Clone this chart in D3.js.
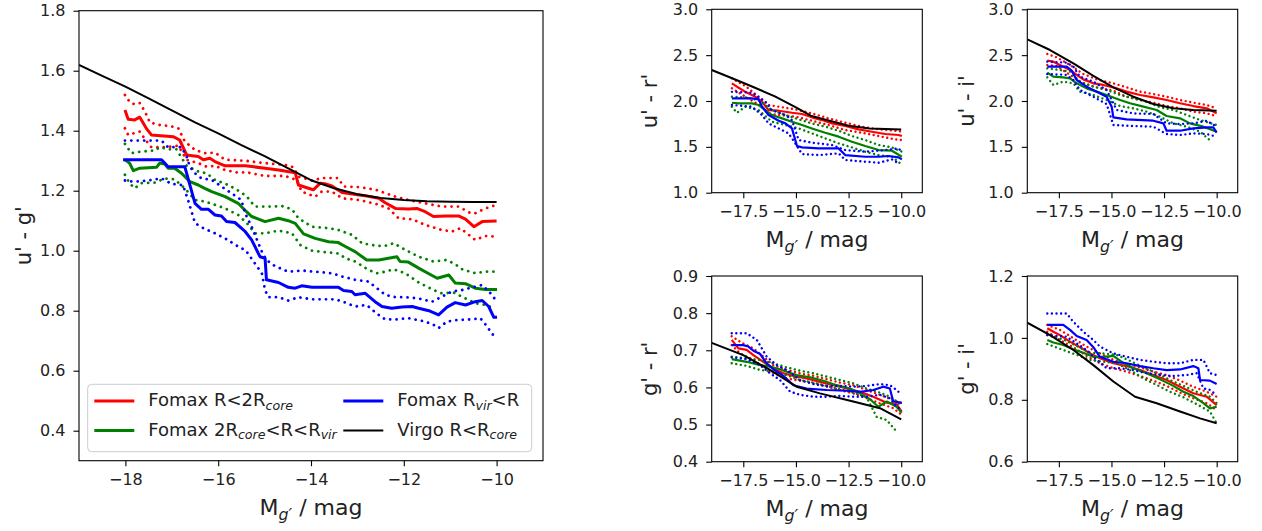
<!DOCTYPE html>
<html><head><meta charset="utf-8">
<script src="https://cdn.jsdelivr.net/npm/d3@7"></script>
<style>body{margin:0;background:#fff}text{font-family:"DejaVu Sans",sans-serif}</style>
</head><body>
<svg id="c" width="1262" height="531"></svg>
<script>
// ---------------- DATA ----------------
const xDomain = [-19, -9];
const mainXTicks = [-18, -16, -14, -12, -10];
const mainYTicks = [0.4, 0.6, 0.8, 1.0, 1.2, 1.4, 1.6, 1.8];
const smallXTicks = [-17.5, -15.0, -12.5, -10.0];
const urYTicks = [1.0, 1.5, 2.0, 2.5, 3.0];
const uiYTicks = [1.0, 1.5, 2.0, 2.5, 3.0];
const grYTicks = [0.4, 0.5, 0.6, 0.7, 0.8, 0.9];
const giYTicks = [0.6, 0.8, 1.0, 1.2];

// main panel: u' - g'
const mainVirgo = [[-19,1.619],[-18.5,1.583],[-18,1.547],[-17.5,1.508],[-17,1.468],[-16.5,1.428],[-16,1.391],[-15.5,1.352],[-15,1.315],[-14.5,1.275],[-14,1.235],[-13.5,1.208],[-13,1.188],[-12.5,1.176],[-12,1.169],[-11.5,1.165],[-11,1.163],[-10.5,1.162],[-10,1.162]];
const mainRedMid = [[-18.01,1.469],[-17.94,1.438],[-17.8,1.436],[-17.69,1.445],[-17.55,1.408],[-17.44,1.386],[-16.97,1.38],[-16.83,1.369],[-16.68,1.319],[-16.43,1.314],[-16.32,1.303],[-16.18,1.308],[-16.07,1.297],[-15.85,1.283],[-15.42,1.283],[-14.99,1.275],[-14.7,1.269],[-14.34,1.26],[-14.27,1.219],[-14.09,1.21],[-13.95,1.203],[-13.8,1.225],[-13.7,1.223],[-13.55,1.216],[-13.33,1.194],[-13.12,1.189],[-12.83,1.183],[-12.54,1.175],[-12.4,1.16],[-12.18,1.141],[-11.9,1.139],[-11.72,1.141],[-11.54,1.13],[-11.36,1.114],[-11.1,1.116],[-10.82,1.116],[-10.67,1.105],[-10.49,1.08],[-10.31,1.097],[-10,1.099]];
const mainRedHi = [[-18.01,1.519],[-17.9,1.494],[-17.8,1.488],[-17.69,1.492],[-17.58,1.464],[-17.47,1.427],[-17.26,1.419],[-17.04,1.416],[-16.86,1.408],[-16.72,1.364],[-16.5,1.336],[-16.29,1.325],[-16.07,1.327],[-15.85,1.303],[-15.42,1.3],[-14.99,1.292],[-14.56,1.286],[-14.38,1.278],[-14.27,1.247],[-13.98,1.234],[-13.77,1.242],[-13.41,1.242],[-13.3,1.214],[-12.97,1.212],[-12.6,1.203],[-12.18,1.18],[-11.9,1.169],[-11.54,1.158],[-11.18,1.147],[-10.82,1.147],[-10.56,1.125],[-10.46,1.125],[-10.24,1.141],[-10.02,1.152]];
const mainRedLo = [[-18.01,1.408],[-17.94,1.386],[-17.69,1.397],[-17.58,1.372],[-17.44,1.345],[-17.15,1.345],[-16.86,1.35],[-16.68,1.303],[-16.43,1.292],[-16.25,1.28],[-16.07,1.283],[-15.85,1.269],[-15.57,1.26],[-15.4,1.262],[-14.99,1.249],[-14.56,1.249],[-14.31,1.236],[-14.2,1.197],[-13.91,1.18],[-13.77,1.197],[-13.55,1.197],[-13.33,1.175],[-12.97,1.169],[-12.6,1.156],[-12.33,1.141],[-12.11,1.108],[-11.82,1.105],[-11.54,1.086],[-11.18,1.069],[-10.96,1.064],[-10.78,1.075],[-10.64,1.058],[-10.46,1.036],[-10.24,1.049],[-9.99,1.047]];
const mainGreenMid = [[-18.01,1.303],[-17.91,1.292],[-17.83,1.267],[-17.69,1.275],[-17.33,1.278],[-17.26,1.292],[-17.15,1.289],[-17.08,1.275],[-16.94,1.275],[-16.79,1.258],[-16.61,1.23],[-16.43,1.219],[-16.29,1.208],[-16.14,1.197],[-15.85,1.18],[-15.57,1.158],[-15.39,1.13],[-15.28,1.114],[-14.99,1.097],[-14.7,1.108],[-14.49,1.1],[-14.34,1.091],[-14.16,1.056],[-13.91,1.041],[-13.62,1.03],[-13.41,1.027],[-13.26,1.014],[-13.05,0.997],[-12.8,0.969],[-12.54,0.969],[-12.33,0.975],[-12.15,0.98],[-12.08,0.964],[-11.9,0.962],[-11.68,0.942],[-11.46,0.923],[-11.28,0.908],[-11.03,0.919],[-10.89,0.892],[-10.67,0.89],[-10.46,0.875],[-10.24,0.871],[-9.99,0.871]];
const mainGreenHi = [[-18.01,1.356],[-17.87,1.325],[-17.69,1.33],[-17.37,1.334],[-17.26,1.345],[-17.08,1.338],[-16.9,1.338],[-16.68,1.283],[-16.43,1.264],[-16.25,1.258],[-16.07,1.236],[-15.78,1.219],[-15.53,1.197],[-15.38,1.18],[-15.21,1.147],[-14.85,1.147],[-14.63,1.149],[-14.41,1.138],[-14.27,1.108],[-13.98,1.08],[-13.62,1.075],[-13.41,1.069],[-13.12,1.053],[-12.9,1.025],[-12.58,1.016],[-12.4,1.016],[-12.22,1.025],[-11.97,1.003],[-11.68,0.98],[-11.36,0.964],[-11.1,0.969],[-10.92,0.958],[-10.74,0.938],[-10.46,0.925],[-10.24,0.93],[-10.02,0.93]];
const mainGreenLo = [[-18.01,1.253],[-17.91,1.225],[-17.8,1.208],[-17.66,1.225],[-17.37,1.227],[-17.15,1.241],[-16.94,1.238],[-16.72,1.208],[-16.5,1.169],[-16.29,1.164],[-16.07,1.153],[-15.85,1.141],[-15.57,1.119],[-15.38,1.092],[-15.21,1.058],[-14.99,1.058],[-14.7,1.067],[-14.41,1.058],[-14.23,1.019],[-13.98,1.0],[-13.62,0.994],[-13.41,0.991],[-13.26,0.975],[-13.05,0.964],[-12.76,0.936],[-12.58,0.925],[-12.4,0.93],[-12.22,0.938],[-11.97,0.925],[-11.68,0.894],[-11.36,0.869],[-11.18,0.858],[-10.92,0.86],[-10.67,0.841],[-10.46,0.825],[-10.24,0.819],[-10.06,0.808]];
const mainBlueMid = [[-18.05,1.303],[-17.22,1.303],[-17.08,1.28],[-16.72,1.28],[-16.65,1.241],[-16.5,1.158],[-16.36,1.138],[-16.21,1.138],[-16.07,1.119],[-15.93,1.116],[-15.82,1.097],[-15.64,1.094],[-15.5,1.075],[-15.42,1.064],[-15.28,1.036],[-15.1,0.98],[-14.99,0.975],[-14.96,0.903],[-14.7,0.894],[-14.49,0.878],[-14.34,0.875],[-14.2,0.883],[-13.98,0.878],[-13.41,0.878],[-13.3,0.867],[-13.12,0.864],[-13.05,0.853],[-12.83,0.858],[-12.62,0.83],[-12.47,0.814],[-12.26,0.808],[-12.04,0.812],[-11.82,0.814],[-11.68,0.808],[-11.46,0.8],[-11.25,0.786],[-11.07,0.812],[-10.89,0.827],[-10.67,0.819],[-10.46,0.83],[-10.31,0.834],[-10.17,0.814],[-10.06,0.778],[-9.99,0.778]];
const mainBlueHi = [[-18.01,1.367],[-17.22,1.367],[-17.08,1.345],[-16.79,1.345],[-16.68,1.314],[-16.61,1.28],[-16.5,1.258],[-16.36,1.241],[-16.14,1.236],[-15.93,1.214],[-15.71,1.191],[-15.5,1.169],[-15.42,1.125],[-15.28,1.08],[-15.06,0.997],[-14.96,0.969],[-14.78,0.949],[-14.49,0.93],[-14.2,0.934],[-13.91,0.93],[-13.55,0.925],[-13.33,0.914],[-13.05,0.903],[-12.76,0.897],[-12.58,0.875],[-12.4,0.853],[-12.18,0.845],[-11.97,0.845],[-11.68,0.841],[-11.39,0.83],[-11.18,0.847],[-10.96,0.864],[-10.74,0.869],[-10.46,0.88],[-10.31,0.886],[-10.13,0.858],[-10.02,0.836]];
const mainBlueLo = [[-18.01,1.234],[-17.8,1.23],[-17.51,1.234],[-17.22,1.241],[-17.01,1.223],[-16.76,1.219],[-16.65,1.169],[-16.5,1.092],[-16.32,1.075],[-16.07,1.058],[-15.85,1.041],[-15.57,1.014],[-15.4,1.0],[-15.21,0.958],[-15.06,0.925],[-14.99,0.869],[-14.92,0.845],[-14.7,0.845],[-14.49,0.834],[-14.27,0.845],[-13.98,0.838],[-13.48,0.838],[-13.26,0.827],[-13.05,0.814],[-12.8,0.819],[-12.58,0.79],[-12.4,0.771],[-12.18,0.771],[-11.9,0.775],[-11.54,0.764],[-11.36,0.753],[-11.25,0.742],[-11.07,0.764],[-10.85,0.769],[-10.53,0.771],[-10.35,0.775],[-10.2,0.747],[-10.1,0.722],[-10.01,0.716]];

// u' - r'
const urVirgo = [[-19,2.338],[-18,2.245],[-17,2.15],[-16,2.05],[-15,1.93],[-14.3,1.84],[-13.5,1.79],[-12.5,1.73],[-11.5,1.70],[-10,1.688]];
const urRedMid = [[-18.04,2.192],[-17.8,2.156],[-17.4,2.1],[-16.93,2.047],[-16.61,1.992],[-16.3,1.9],[-15.82,1.894],[-15.19,1.872],[-14.71,1.858],[-14.24,1.822],[-13.76,1.792],[-13.29,1.756],[-12.66,1.727],[-12.02,1.69],[-11.39,1.665],[-10.76,1.64],[-10.13,1.629],[-9.97,1.618]];
const urRedHi = [[-18.04,2.247],[-17.4,2.163],[-16.61,2.018],[-16.3,1.956],[-15.82,1.938],[-15.03,1.909],[-14.24,1.865],[-13.45,1.811],[-12.66,1.763],[-11.87,1.72],[-11.07,1.69],[-10.28,1.676],[-9.97,1.665]];
const urRedLo = [[-18.04,2.138],[-17.4,2.047],[-16.61,1.938],[-16.3,1.865],[-15.82,1.847],[-15.03,1.829],[-14.24,1.785],[-13.45,1.738],[-12.66,1.683],[-11.87,1.654],[-11.07,1.618],[-10.28,1.581],[-9.97,1.574]];
const urGreenMid = [[-18.04,1.981],[-17.72,1.974],[-17.09,1.974],[-16.77,1.956],[-16.45,1.9],[-16.14,1.847],[-15.66,1.811],[-15.19,1.774],[-14.71,1.738],[-14.24,1.701],[-13.61,1.654],[-12.97,1.611],[-12.34,1.556],[-11.71,1.509],[-11.07,1.465],[-10.44,1.458],[-9.97,1.392]];
const urGreenHi = [[-18.04,2.047],[-17.4,2.04],[-16.77,2.01],[-16.14,1.9],[-15.5,1.847],[-14.87,1.8],[-14.24,1.756],[-13.61,1.72],[-12.97,1.676],[-12.34,1.618],[-11.71,1.574],[-11.07,1.52],[-10.44,1.494],[-9.97,1.447]];
const urGreenLo = [[-18.04,1.938],[-17.8,1.872],[-17.4,1.938],[-16.77,1.9],[-16.14,1.774],[-15.5,1.738],[-14.87,1.701],[-14.24,1.647],[-13.61,1.592],[-12.97,1.538],[-12.34,1.494],[-11.71,1.447],[-11.07,1.41],[-10.44,1.392],[-10.05,1.32]];
const urBlueMid = [[-18.04,2.029],[-17.09,2.029],[-16.77,2.018],[-16.61,1.938],[-16.3,1.847],[-15.82,1.785],[-15.5,1.756],[-15.19,1.701],[-14.95,1.509],[-14.71,1.494],[-13.92,1.483],[-12.97,1.483],[-12.66,1.41],[-11.71,1.392],[-11.07,1.392],[-10.6,1.4],[-10.13,1.385],[-9.97,1.363]];
const urBlueHi = [[-18.04,2.1],[-17.09,2.091],[-16.77,2.04],[-16.45,1.992],[-16.14,1.9],[-15.5,1.847],[-15.19,1.792],[-14.87,1.574],[-14.24,1.545],[-13.29,1.52],[-12.66,1.465],[-11.71,1.447],[-10.76,1.465],[-10.13,1.483],[-9.97,1.447]];
const urBlueLo = [[-18.04,1.956],[-17.09,1.938],[-16.61,1.847],[-16.3,1.756],[-15.82,1.701],[-15.35,1.647],[-15.03,1.538],[-14.71,1.421],[-13.92,1.41],[-12.97,1.429],[-12.66,1.356],[-11.71,1.338],[-11.07,1.327],[-10.44,1.363],[-10.13,1.32]];

// u' - i'
const uiVirgo = [[-19,2.673],[-17.92,2.556],[-16.81,2.411],[-15.86,2.273],[-14.91,2.149],[-13.96,2.047],[-13.01,1.967],[-12.06,1.92],[-11.11,1.902],[-10,1.895]];
const uiRedMid = [[-18.05,2.44],[-17.76,2.429],[-17.45,2.393],[-16.97,2.338],[-16.65,2.284],[-16.34,2.236],[-15.86,2.193],[-15.39,2.175],[-14.91,2.149],[-14.28,2.102],[-13.64,2.065],[-13.01,2.04],[-12.38,2.011],[-11.74,1.975],[-11.11,1.945],[-10.47,1.92],[-10,1.865]];
const uiRedHi = [[-18.05,2.513],[-17.61,2.476],[-16.97,2.393],[-16.34,2.295],[-15.7,2.236],[-14.91,2.193],[-14.28,2.149],[-13.64,2.102],[-13.01,2.076],[-12.38,2.047],[-11.74,2.011],[-11.11,1.982],[-10.47,1.956],[-10,1.92]];
const uiRedLo = [[-18.05,2.393],[-17.61,2.382],[-16.97,2.284],[-16.34,2.193],[-15.7,2.149],[-14.91,2.113],[-14.28,2.047],[-13.64,2.011],[-13.01,1.982],[-12.38,1.945],[-11.74,1.92],[-11.11,1.884],[-10.47,1.865],[-10,1.836]];
const uiGreenMid = [[-18.05,2.309],[-17.76,2.265],[-17.29,2.258],[-16.97,2.247],[-16.65,2.193],[-16.18,2.138],[-15.7,2.102],[-15.23,2.065],[-14.59,2.011],[-14.12,1.975],[-13.48,1.938],[-12.85,1.902],[-12.38,1.836],[-11.74,1.811],[-11.27,1.756],[-10.63,1.72],[-10,1.665]];
const uiGreenHi = [[-18.05,2.356],[-17.45,2.338],[-16.97,2.32],[-16.5,2.211],[-15.86,2.156],[-15.23,2.12],[-14.59,2.065],[-13.96,2.029],[-13.33,1.993],[-12.69,1.931],[-12.06,1.902],[-11.42,1.847],[-10.79,1.793],[-10,1.738]];
const uiGreenLo = [[-18.05,2.258],[-17.76,2.175],[-17.29,2.211],[-16.81,2.193],[-16.5,2.102],[-15.86,2.065],[-15.23,2.011],[-14.59,1.945],[-13.96,1.92],[-13.33,1.884],[-12.69,1.829],[-12.06,1.756],[-11.42,1.72],[-10.79,1.665],[-10.24,1.556]];
const uiBlueMid = [[-18.05,2.375],[-17.13,2.375],[-16.89,2.331],[-16.65,2.229],[-16.18,2.156],[-15.7,2.102],[-15.23,2.047],[-14.99,1.938],[-14.91,1.822],[-14.28,1.8],[-13.01,1.785],[-12.53,1.756],[-12.38,1.676],[-11.74,1.676],[-11.11,1.702],[-10.47,1.713],[-10.16,1.713],[-10,1.655]];
const uiBlueHi = [[-18.05,2.429],[-17.13,2.418],[-16.81,2.375],[-16.5,2.265],[-15.86,2.211],[-15.23,2.12],[-14.99,2.011],[-14.75,1.902],[-13.96,1.865],[-13.01,1.858],[-12.38,1.756],[-11.74,1.749],[-11.11,1.756],[-10.47,1.785],[-10,1.72]];
const uiBlueLo = [[-18.05,2.295],[-17.13,2.284],[-16.81,2.229],[-16.5,2.12],[-15.86,2.047],[-15.23,1.967],[-14.91,1.738],[-13.96,1.727],[-13.01,1.72],[-12.38,1.64],[-11.74,1.629],[-11.11,1.647],[-10.47,1.64],[-10,1.611]];

// g' - r'
const grVirgo = [[-19,0.72],[-17.5,0.687],[-16.23,0.647],[-14.97,0.602],[-13.86,0.584],[-12.28,0.562],[-11.01,0.544],[-10,0.514]];
const grRedMid = [[-18.05,0.728],[-17.73,0.705],[-17.34,0.701],[-17.02,0.687],[-16.55,0.669],[-16.07,0.651],[-15.6,0.638],[-15.12,0.631],[-14.49,0.624],[-13.86,0.615],[-13.22,0.606],[-12.59,0.597],[-11.96,0.588],[-11.33,0.575],[-10.69,0.559],[-10.22,0.555],[-9.98,0.535]];
const grRedHi = [[-18.05,0.738],[-17.66,0.723],[-17.02,0.705],[-16.55,0.683],[-16.07,0.66],[-15.44,0.647],[-14.81,0.638],[-14.17,0.631],[-13.54,0.622],[-12.91,0.613],[-12.28,0.606],[-11.64,0.593],[-11.01,0.58],[-10.38,0.566],[-9.98,0.557]];
const grRedLo = [[-18.05,0.714],[-17.66,0.692],[-17.02,0.674],[-16.55,0.656],[-16.07,0.638],[-15.44,0.624],[-14.81,0.618],[-14.17,0.611],[-13.54,0.602],[-12.91,0.593],[-12.28,0.584],[-11.64,0.571],[-11.01,0.557],[-10.38,0.544],[-9.98,0.526]];
const grGreenMid = [[-18.05,0.676],[-17.66,0.672],[-17.34,0.669],[-16.7,0.66],[-16.23,0.656],[-15.76,0.649],[-15.44,0.642],[-14.97,0.633],[-14.33,0.627],[-13.7,0.618],[-13.07,0.606],[-12.43,0.597],[-11.96,0.584],[-11.48,0.568],[-11.09,0.548],[-10.69,0.562],[-10.22,0.548],[-9.98,0.532]];
const grGreenHi = [[-18.05,0.683],[-17.34,0.678],[-16.7,0.674],[-16.07,0.665],[-15.44,0.654],[-14.81,0.645],[-14.17,0.638],[-13.54,0.629],[-12.91,0.62],[-12.28,0.611],[-11.64,0.597],[-11.01,0.586],[-10.38,0.571],[-9.98,0.548]];
const grGreenLo = [[-18.05,0.665],[-17.34,0.658],[-16.7,0.647],[-16.07,0.642],[-15.44,0.633],[-14.81,0.62],[-14.17,0.613],[-13.54,0.604],[-12.91,0.595],[-12.28,0.586],[-11.64,0.573],[-11.17,0.521],[-10.69,0.512],[-10.22,0.481]];
const grBlueMid = [[-18.05,0.714],[-17.5,0.714],[-17.26,0.71],[-17.02,0.699],[-16.7,0.69],[-16.39,0.665],[-16.07,0.649],[-15.6,0.631],[-15.12,0.606],[-14.49,0.597],[-13.54,0.593],[-12.59,0.591],[-11.96,0.588],[-11.33,0.593],[-10.85,0.602],[-10.54,0.597],[-10.38,0.562],[-9.98,0.559]];
const grBlueHi = [[-18.05,0.746],[-17.34,0.746],[-16.86,0.728],[-16.39,0.683],[-15.91,0.66],[-15.44,0.647],[-14.81,0.62],[-14.17,0.609],[-13.54,0.604],[-12.91,0.604],[-12.28,0.602],[-11.64,0.604],[-11.01,0.609],[-10.54,0.606],[-10.22,0.593],[-9.98,0.58]];
const grBlueLo = [[-18.05,0.681],[-17.34,0.676],[-16.7,0.66],[-16.23,0.638],[-15.76,0.62],[-15.28,0.589],[-14.81,0.58],[-14.17,0.575],[-13.54,0.575],[-12.91,0.577],[-12.28,0.575],[-11.64,0.575],[-11.01,0.58],[-10.54,0.571],[-10.22,0.548],[-9.98,0.539]];

// g' - i'
const giVirgo = [[-19,1.049],[-17.92,1.009],[-16.81,0.961],[-15.86,0.912],[-14.91,0.859],[-13.88,0.81],[-12.85,0.789],[-11.74,0.762],[-10.79,0.74],[-10,0.724]];
const giRedMid = [[-18.05,1.031],[-17.76,1.02],[-17.45,1.009],[-16.97,0.988],[-16.5,0.97],[-16.02,0.95],[-15.55,0.934],[-14.91,0.918],[-14.28,0.909],[-13.64,0.896],[-13.01,0.88],[-12.38,0.864],[-11.74,0.842],[-11.11,0.821],[-10.47,0.81],[-10,0.783]];
const giRedHi = [[-18.05,1.042],[-17.45,1.026],[-16.81,0.999],[-16.18,0.972],[-15.55,0.95],[-14.91,0.929],[-14.28,0.916],[-13.64,0.905],[-13.01,0.891],[-12.38,0.88],[-11.74,0.862],[-11.11,0.842],[-10.47,0.826],[-10,0.81]];
const giRedLo = [[-18.05,1.02],[-17.45,0.993],[-16.81,0.97],[-16.18,0.942],[-15.55,0.918],[-14.91,0.902],[-14.28,0.891],[-13.64,0.877],[-13.01,0.862],[-12.38,0.845],[-11.74,0.823],[-11.11,0.805],[-10.47,0.789],[-10,0.767]];
const giGreenMid = [[-18.05,0.993],[-17.76,0.985],[-17.29,0.977],[-16.81,0.963],[-16.34,0.952],[-15.86,0.939],[-15.39,0.939],[-14.91,0.942],[-14.52,0.923],[-13.96,0.902],[-13.33,0.886],[-12.69,0.866],[-12.06,0.845],[-11.58,0.826],[-11.11,0.812],[-10.63,0.789],[-10.32,0.772],[-10,0.778]];
const giGreenHi = [[-18.05,1.009],[-17.29,0.995],[-16.65,0.974],[-16.02,0.952],[-15.39,0.95],[-14.75,0.945],[-14.12,0.926],[-13.48,0.905],[-12.85,0.886],[-12.22,0.864],[-11.58,0.845],[-10.95,0.826],[-10.32,0.81],[-10,0.789]];
const giGreenLo = [[-18.05,0.98],[-17.29,0.961],[-16.65,0.945],[-16.02,0.929],[-15.39,0.923],[-14.75,0.918],[-14.12,0.896],[-13.48,0.869],[-12.85,0.848],[-12.22,0.826],[-11.58,0.808],[-10.95,0.786],[-10.32,0.762],[-10,0.724]];
const giBlueMid = [[-18.05,1.042],[-17.29,1.042],[-16.97,1.026],[-16.65,1.006],[-16.18,0.993],[-15.86,0.97],[-15.55,0.939],[-14.91,0.923],[-14.28,0.918],[-13.64,0.909],[-13.01,0.902],[-12.38,0.896],[-11.74,0.898],[-11.11,0.909],[-10.87,0.902],[-10.79,0.864],[-10.32,0.862],[-10,0.851]];
const giBlueHi = [[-18.05,1.079],[-17.13,1.079],[-16.81,1.052],[-16.34,1.02],[-15.86,0.993],[-15.55,0.972],[-14.91,0.95],[-14.28,0.939],[-13.64,0.929],[-13.01,0.923],[-12.38,0.918],[-11.74,0.918],[-11.11,0.929],[-10.63,0.929],[-10.32,0.886],[-10,0.88]];
const giBlueLo = [[-18.05,1.009],[-17.13,1.004],[-16.65,0.982],[-16.18,0.961],[-15.7,0.929],[-15.23,0.902],[-14.59,0.902],[-13.96,0.896],[-13.33,0.886],[-12.69,0.88],[-12.06,0.877],[-11.42,0.88],[-10.95,0.886],[-10.63,0.837],[-10.32,0.832],[-10,0.815]];

// ---------------- DRAW ----------------
const COL = {red:"#ff0000", green:"#008000", blue:"#0000ff", black:"#000000"};
const svg = d3.select("#c");
const FONT = "DejaVu Sans";
const TICK_FS = 16, LABEL_FS = 22;

const panels = [
  {id:"main", l:79, r:543, t:10.7, b:460.7, yDomain:[0.3,1.8], xTicks:mainXTicks, yTicks:mainYTicks,
   xFmt:d3.format("d"), yFmt:d3.format(".1f"), ylab:"u' - g'", lw:3, dw:2.8, dash:"0.01,6.4", bw:2,
   red:[mainRedMid,mainRedHi,mainRedLo], green:[mainGreenMid,mainGreenHi,mainGreenLo], blue:[mainBlueMid,mainBlueHi,mainBlueLo], virgo:mainVirgo, ylabX:31},
  {id:"ur", l:711.7, r:922.3, t:9.3, b:192.7, yDomain:[1.0,3.0], xTicks:smallXTicks, yTicks:urYTicks,
   xFmt:d3.format(".1f"), yFmt:d3.format(".1f"), ylab:"u' - r'", lw:2.2, dw:2.4, dash:"0.01,4.6", bw:2,
   red:[urRedMid,urRedHi,urRedLo], green:[urGreenMid,urGreenHi,urGreenLo], blue:[urBlueMid,urBlueHi,urBlueLo], virgo:urVirgo, ylabX:657},
  {id:"ui", l:1027.3, r:1237.7, t:9.3, b:192.7, yDomain:[1.0,3.0], xTicks:smallXTicks, yTicks:uiYTicks,
   xFmt:d3.format(".1f"), yFmt:d3.format(".1f"), ylab:"u' - i'", lw:2.2, dw:2.4, dash:"0.01,4.6", bw:2,
   red:[uiRedMid,uiRedHi,uiRedLo], green:[uiGreenMid,uiGreenHi,uiGreenLo], blue:[uiBlueMid,uiBlueHi,uiBlueLo], virgo:uiVirgo, ylabX:974},
  {id:"gr", l:711.7, r:922.3, t:276, b:461.7, yDomain:[0.4,0.9], xTicks:smallXTicks, yTicks:grYTicks,
   xFmt:d3.format(".1f"), yFmt:d3.format(".1f"), ylab:"g' - r'", lw:2.2, dw:2.4, dash:"0.01,4.6", bw:2,
   red:[grRedMid,grRedHi,grRedLo], green:[grGreenMid,grGreenHi,grGreenLo], blue:[grBlueMid,grBlueHi,grBlueLo], virgo:grVirgo, ylabX:657},
  {id:"gi", l:1027.3, r:1237.7, t:276, b:461.7, yDomain:[0.6,1.2], xTicks:smallXTicks, yTicks:giYTicks,
   xFmt:d3.format(".1f"), yFmt:d3.format(".1f"), ylab:"g' - i'", lw:2.2, dw:2.4, dash:"0.01,4.6", bw:2,
   red:[giRedMid,giRedHi,giRedLo], green:[giGreenMid,giGreenHi,giGreenLo], blue:[giBlueMid,giBlueHi,giBlueLo], virgo:giVirgo, ylabX:974}
];

const defs = svg.append("defs");

function addMLabel(g, x, y, size) {
  const t = g.append("text").attr("x", x).attr("y", y).attr("text-anchor", "middle")
    .attr("font-family", FONT).attr("font-size", size).attr("fill", "#222");
  t.append("tspan").text("M");
  t.append("tspan").attr("font-size", size*0.72).attr("font-style","italic").attr("dy", size*0.22).text("g′");
  t.append("tspan").attr("dy", -size*0.22).text(" / mag");
}

panels.forEach(p => {
  const x = d3.scaleLinear().domain(xDomain).range([p.l, p.r]);
  const y = d3.scaleLinear().domain(p.yDomain).range([p.b, p.t]);
  const g = svg.append("g");
  defs.append("clipPath").attr("id","clip-"+p.id).append("rect")
    .attr("x",p.l).attr("y",p.t).attr("width",p.r-p.l).attr("height",p.b-p.t);
  const plot = g.append("g").attr("clip-path","url(#clip-"+p.id+")");
  const ln = d3.line().x(d => x(d[0])).y(d => y(d[1]));
  ["red","green","blue"].forEach(c => {
    const [mid, hi, lo] = p[c];
    plot.append("path").attr("d", ln(mid)).attr("fill","none").attr("stroke",COL[c])
      .attr("stroke-width",p.lw).attr("stroke-linejoin","round");
    [hi, lo].forEach(s => plot.append("path").attr("d", ln(s)).attr("fill","none")
      .attr("stroke",COL[c]).attr("stroke-width",p.dw).attr("stroke-linecap","round")
      .attr("stroke-dasharray",p.dash));
  });
  plot.append("path").attr("d", ln(p.virgo)).attr("fill","none").attr("stroke","#000")
    .attr("stroke-width",p.bw).attr("stroke-linejoin","round");

  const ax = g.append("g").attr("transform",`translate(0,${p.b})`)
    .call(d3.axisBottom(x).tickValues(p.xTicks).tickFormat(p.xFmt).tickSize(5.5).tickPadding(7.5));
  const ay = g.append("g").attr("transform",`translate(${p.l},0)`)
    .call(d3.axisLeft(y).tickValues(p.yTicks).tickFormat(p.yFmt).tickSize(5.5).tickPadding(8));
  [ax, ay].forEach(a => {
    a.select(".domain").remove();
    a.selectAll("line").attr("stroke","#000").attr("stroke-width",1.1);
    a.selectAll("text").attr("font-family",FONT).attr("font-size",TICK_FS).attr("fill","#222");
  });
  g.append("rect").attr("x",p.l).attr("y",p.t).attr("width",p.r-p.l).attr("height",p.b-p.t)
    .attr("fill","none").attr("stroke","#000").attr("stroke-width",1.1);

  addMLabel(g, (p.l+p.r)/2, p.b + 54, LABEL_FS);
  g.append("text").attr("transform",`translate(${p.ylabX},${(p.t+p.b)/2}) rotate(-90)`)
    .attr("text-anchor","middle").attr("font-family",FONT).attr("font-size",21).attr("fill","#222")
    .text(p.ylab);
});

// legend (main panel)
const lg = svg.append("g");
lg.append("rect").attr("x",87.7).attr("y",384.3).attr("width",444).attr("height",67.4).attr("rx",4)
  .attr("fill","#fff").attr("fill-opacity",0.8).attr("stroke","#cccccc").attr("stroke-width",1);
const legendItems = [
  {c:"red", hx:94.3, ty:406, parts:[["Fomax R<2R",false],["core",true]]},
  {c:"green", hx:94.3, ty:435.5, parts:[["Fomax 2R",false],["core",true],["<R<R",false],["vir",true]]},
  {c:"blue", hx:343.3, ty:406, parts:[["Fomax R",false],["vir",true],["<R",false]]},
  {c:"black", hx:343.3, ty:435.5, parts:[["Virgo R<R",false],["core",true]]}
];
const LEG_FS = 18;
legendItems.forEach(it => {
  lg.append("line").attr("x1",it.hx).attr("x2",it.hx+40).attr("y1",it.ty-5).attr("y2",it.ty-5)
    .attr("stroke",COL[it.c]).attr("stroke-width", it.c==="black"?2:3);
  const t = lg.append("text").attr("x",it.hx+54).attr("y",it.ty).attr("font-family",FONT)
    .attr("font-size",LEG_FS).attr("fill","#222");
  let shifted = false;
  it.parts.forEach(([s,sub]) => {
    const ts = t.append("tspan").text(s);
    if (sub && !shifted) { ts.attr("font-size",LEG_FS*0.7).attr("font-style","italic").attr("dy",3.8); shifted = true; }
    else if (!sub && shifted) { ts.attr("dy",-3.8); shifted = false; }
  });
});
</script>
</body></html>
